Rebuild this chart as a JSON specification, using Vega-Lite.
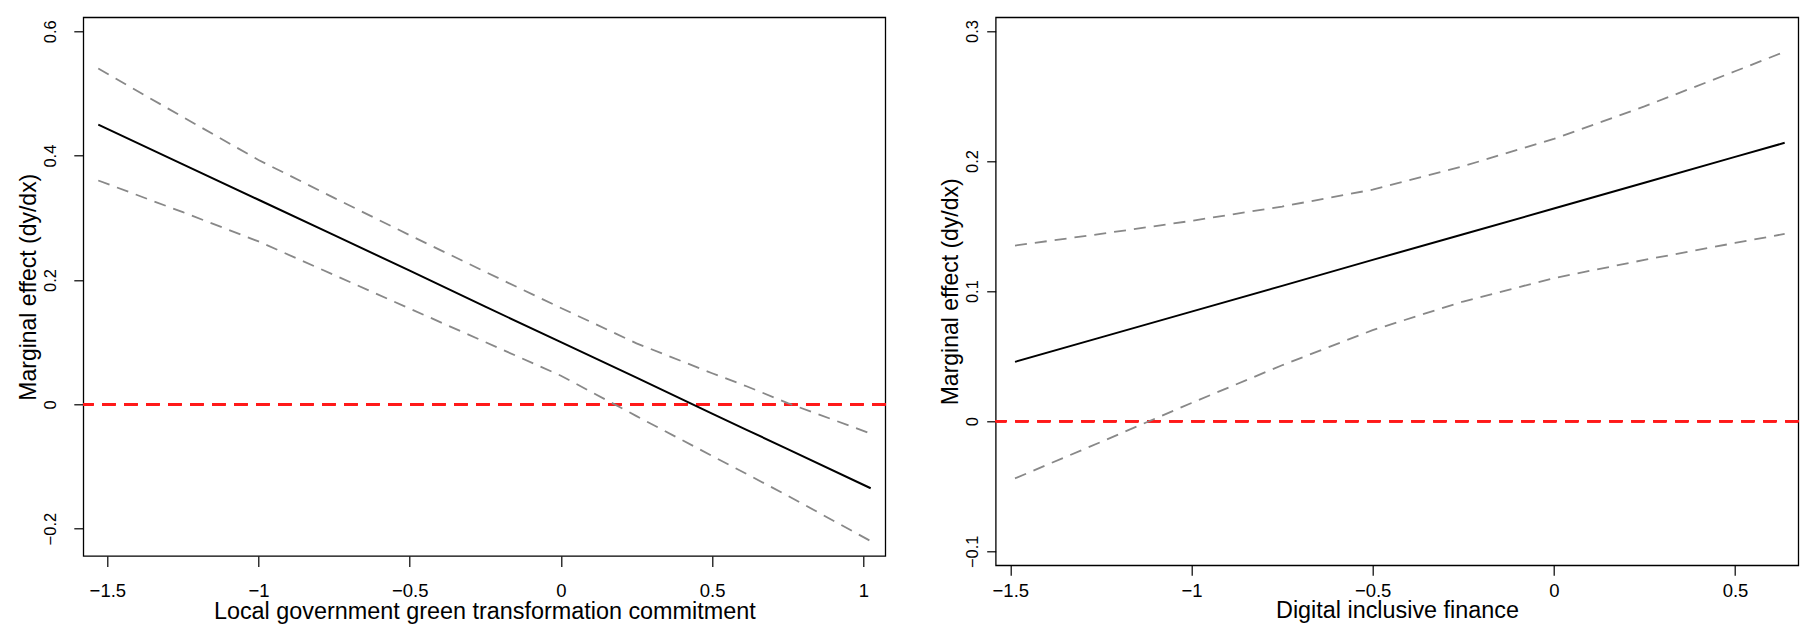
{
  "$schema": "https://vega.github.io/schema/vega-lite/v6.json",
  "background": "white",
  "padding": {"left": 16.3, "top": 16.3, "right": 10, "bottom": 10},
  "spacing": 110.4,
  "bounds": "flush",
  "datasets": {
    "left": [
      {"x": -1.53, "est": 0.450, "hi": 0.540, "lo": 0.360},
      {"x": -1.25, "est": 0.386, "hi": 0.462, "lo": 0.309},
      {"x": -1.0, "est": 0.329, "hi": 0.393, "lo": 0.262},
      {"x": -0.75, "est": 0.272, "hi": 0.332, "lo": 0.208},
      {"x": -0.5, "est": 0.215, "hi": 0.272, "lo": 0.154},
      {"x": -0.25, "est": 0.157, "hi": 0.213, "lo": 0.100},
      {"x": 0.0, "est": 0.100, "hi": 0.155, "lo": 0.046},
      {"x": 0.25, "est": 0.043, "hi": 0.098, "lo": -0.019},
      {"x": 0.5, "est": -0.015, "hi": 0.050, "lo": -0.083},
      {"x": 0.614, "est": -0.041, "hi": 0.029, "lo": -0.112},
      {"x": 0.75, "est": -0.072, "hi": 0.002, "lo": -0.147},
      {"x": 1.0245, "est": -0.135, "hi": -0.047, "lo": -0.220}
    ],
    "right": [
      {"x": -1.487, "est": 0.0456, "hi": 0.135, "lo": -0.044},
      {"x": -1.25, "est": 0.0644, "hi": 0.144, "lo": -0.016},
      {"x": -1.0, "est": 0.0842, "hi": 0.154, "lo": 0.014},
      {"x": -0.75, "est": 0.104, "hi": 0.165, "lo": 0.043},
      {"x": -0.5, "est": 0.124, "hi": 0.178, "lo": 0.070},
      {"x": -0.25, "est": 0.1437, "hi": 0.196, "lo": 0.092},
      {"x": 0.0, "est": 0.1635, "hi": 0.217, "lo": 0.110},
      {"x": 0.25, "est": 0.1833, "hi": 0.242, "lo": 0.124},
      {"x": 0.5, "est": 0.2032, "hi": 0.269, "lo": 0.137},
      {"x": 0.637, "est": 0.214, "hi": 0.284, "lo": 0.144}
    ]
  },
  "hconcat": [
    {
      "width": 802,
      "height": 538.7,
      "data": {"name": "left"},
      "encoding": {
        "x": {
          "type": "quantitative",
          "scale": {"domain": [-1.5795, 1.0728], "nice": false, "zero": false},
          "axis": {
            "title": "Local government green transformation commitment",
            "values": [-1.5, -1, -0.5, 0, 0.5, 1],
            "format": "~g",
            "tickSize": 10.5,
            "labelPadding": 30,
            "labelBaseline": "alphabetic",
            "labelFontSize": 18.5,
            "titleFontSize": 23.4,
            "titleBaseline": "alphabetic",
            "titleY": 62.3
          }
        }
      },
      "layer": [
        {
          "mark": {"type": "rule", "color": "#ff1a1a", "strokeDash": [13, 9], "strokeWidth": 2.2},
          "encoding": {"y": {"datum": 0, "type": "quantitative", "scale": {"domain": [-0.244, 0.6225], "nice": false, "zero": false},
            "axis": {
              "title": "Marginal effect (dy/dx)",
              "values": [-0.2, 0, 0.2, 0.4, 0.6],
              "format": "~g",
              "tickSize": 9.5,
              "labelPadding": 18.5,
              "labelAngle": 270,
              "labelAlign": "center",
              "labelBaseline": "alphabetic",
              "labelFontSize": 16.5,
              "titleFontSize": 23,
              "titleAngle": 270,
              "titleAlign": "center",
              "titleBaseline": "alphabetic",
              "titleX": -48.3,
              "titleY": 269.4
            }}}
        },
        {
          "mark": {"type": "line", "color": "#888888", "strokeDash": [12, 8], "strokeWidth": 1.8},
          "encoding": {"x": {"field": "x", "type": "quantitative"}, "y": {"field": "hi", "type": "quantitative"}}
        },
        {
          "mark": {"type": "line", "color": "#888888", "strokeDash": [12, 8], "strokeWidth": 1.8},
          "encoding": {"x": {"field": "x", "type": "quantitative"}, "y": {"field": "lo", "type": "quantitative"}}
        },
        {
          "mark": {"type": "line", "color": "#000000", "strokeWidth": 2},
          "encoding": {"x": {"field": "x", "type": "quantitative"}, "y": {"field": "est", "type": "quantitative"}}
        }
      ]
    },
    {
      "width": 802.6,
      "height": 548,
      "data": {"name": "right"},
      "encoding": {
        "x": {
          "type": "quantitative",
          "scale": {"domain": [-1.5403, 0.6746], "nice": false, "zero": false},
          "axis": {
            "title": "Digital inclusive finance",
            "values": [-1.5, -1, -0.5, 0, 0.5],
            "format": "~g",
            "tickSize": 10,
            "labelPadding": 21,
            "labelBaseline": "alphabetic",
            "labelFontSize": 18.5,
            "titleFontSize": 23.4,
            "titleBaseline": "alphabetic",
            "titleY": 52.6
          }
        }
      },
      "layer": [
        {
          "mark": {"type": "rule", "color": "#ff1a1a", "strokeDash": [13, 9], "strokeWidth": 2.2},
          "encoding": {"y": {"datum": 0, "type": "quantitative", "scale": {"domain": [-0.1108, 0.3105], "nice": false, "zero": false},
            "axis": {
              "title": "Marginal effect (dy/dx)",
              "values": [-0.1, 0, 0.1, 0.2, 0.3],
              "format": "~g",
              "tickSize": 9,
              "labelPadding": 8.7,
              "labelAngle": 270,
              "labelAlign": "center",
              "labelBaseline": "alphabetic",
              "labelFontSize": 16.5,
              "titleFontSize": 23,
              "titleAngle": 270,
              "titleAlign": "center",
              "titleBaseline": "alphabetic",
              "titleX": -37.7,
              "titleY": 274
            }}}
        },
        {
          "mark": {"type": "line", "color": "#888888", "strokeDash": [12, 8], "strokeWidth": 1.8},
          "encoding": {"x": {"field": "x", "type": "quantitative"}, "y": {"field": "hi", "type": "quantitative"}}
        },
        {
          "mark": {"type": "line", "color": "#888888", "strokeDash": [12, 8], "strokeWidth": 1.8},
          "encoding": {"x": {"field": "x", "type": "quantitative"}, "y": {"field": "lo", "type": "quantitative"}}
        },
        {
          "mark": {"type": "line", "color": "#000000", "strokeWidth": 2},
          "encoding": {"x": {"field": "x", "type": "quantitative"}, "y": {"field": "est", "type": "quantitative"}}
        }
      ]
    }
  ],
  "config": {
    "font": "Liberation Sans",
    "view": {"stroke": "#000000", "strokeWidth": 1.3},
    "axis": {
      "grid": false,
      "domain": false,
      "ticks": true,
      "tickColor": "#000000",
      "tickWidth": 1.2,
      "labelColor": "#000000",
      "titleColor": "#000000",
      "labelFont": "Liberation Sans",
      "titleFont": "Liberation Sans",
      "titleFontWeight": "normal",
      "labelFlush": false,
      "labelOverlap": false,
      "labelBound": false
    }
  }
}
